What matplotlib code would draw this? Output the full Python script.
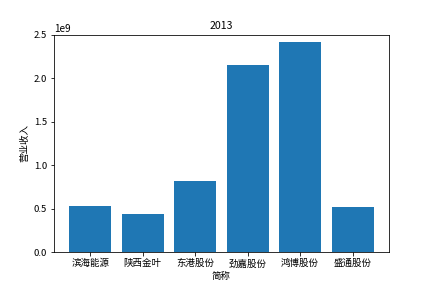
import matplotlib
matplotlib.use("Agg")
import matplotlib.pyplot as plt

plt.rcParams['font.family'] = ['Noto Sans CJK SC', 'DejaVu Sans']
plt.rcParams['axes.unicode_minus'] = False

names = ['滨海能源', '陕西金叶', '东港股份', '劲嘉股份', '鸿博股份', '盛通股份']
revenue = [0.525e9, 0.435e9, 0.815e9, 2.15e9, 2.41e9, 0.515e9]

fig = plt.figure(figsize=(6, 4), dpi=72)
plt.subplots_adjust(left=0.125, right=0.9, top=0.88, bottom=0.125)
plt.bar(names, revenue)
plt.title('2013', fontsize=10.5)
plt.xlabel('简称', fontsize=9.5)
plt.ylabel('营业收入', fontsize=9.5)
plt.tick_params(labelsize=9.5)
plt.ylim(0, 2.5e9)
plt.savefig('out.png', dpi=72)
